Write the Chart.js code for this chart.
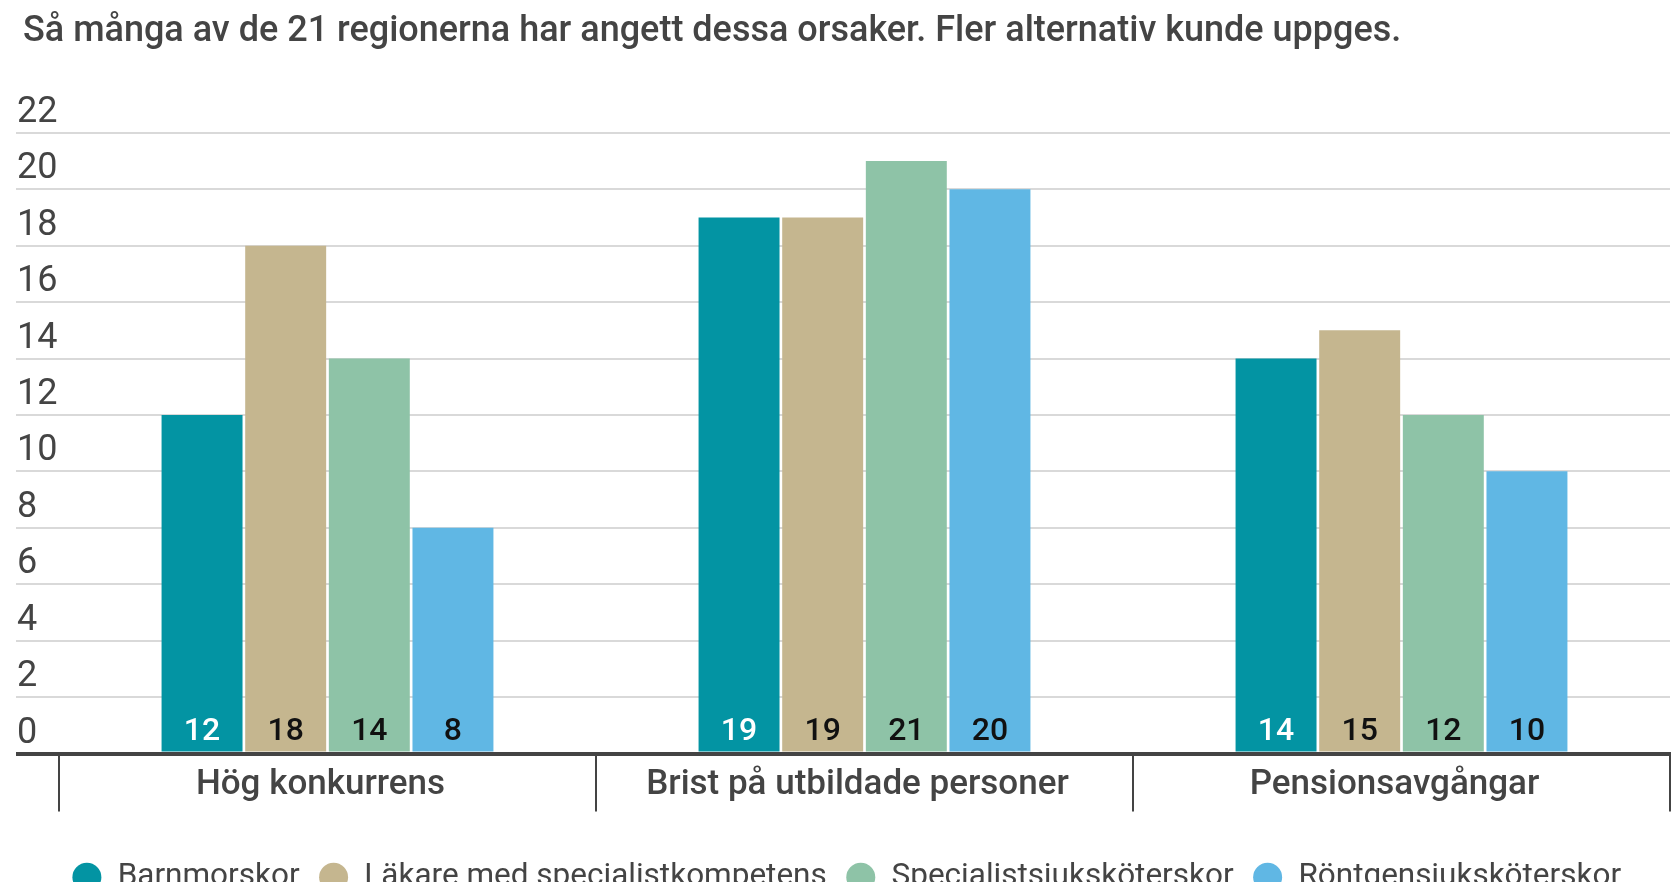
<!DOCTYPE html>
<html>
<head>
<meta charset="utf-8">
<script src="https://cdn.jsdelivr.net/npm/chart.js@4.4.1/dist/chart.umd.min.js"></script>
<style>
  html, body { margin: 0; padding: 0; background: #fff; overflow: hidden; }
  #wrap { position: relative; width: 1673px; height: 903px; }
</style>
</head>
<body>
<div id="wrap"><canvas id="c"></canvas></div>
<script>
const titleText = 'Så många av de 21 regionerna har angett dessa orsaker. Fler alternativ kunde uppges.';
const categories = ['Hög konkurrens', 'Brist på utbildade personer', 'Pensionsavgångar'];
const seriesNames = ['Barnmorskor', 'Läkare med specialistkompetens', 'Specialistsjuksköterskor', 'Röntgensjuksköterskor'];
const barnmorskor = [12, 19, 14];
const lakare = [18, 19, 15];
const specialist = [14, 21, 12];
const rontgen = [8, 20, 10];
const seriesColors = ['#0394a3', '#c5b68f', '#8ec3a7', '#60b7e4'];
const valueLabelColors = ['#ffffff', '#111111', '#111111', '#111111'];
const yMin = 0, yMax = 22, yStep = 2;

Chart.defaults.font.family = 'Roboto, "Noto Sans", sans-serif';

const valueLabels = {
  id: 'valueLabels',
  afterDatasetsDraw(chart) {
    const ctx = chart.ctx;
    ctx.save();
    ctx.font = '500 32px Roboto';
    ctx.textAlign = 'center';
    ctx.textBaseline = 'middle';
    chart.data.datasets.forEach((ds, i) => {
      const meta = chart.getDatasetMeta(i);
      meta.data.forEach((el, j) => {
        ctx.fillStyle = valueLabelColors[i];
        ctx.fillText(String(ds.data[j]), el.x, el.base - 20);
      });
    });
    ctx.restore();
  }
};

const seriesData = [barnmorskor, lakare, specialist, rontgen];

new Chart(document.getElementById('c'), {
  type: 'bar',
  data: {
    labels: categories,
    datasets: seriesNames.map((name, i) => ({
      label: name,
      data: seriesData[i],
      backgroundColor: seriesColors[i],
      borderWidth: 0,
      categoryPercentage: 0.623,
      barPercentage: 0.968
    }))
  },
  options: {
    responsive: true,
    maintainAspectRatio: false,
    animation: false,
    layout: { padding: { left: 23, right: 3, top: 0, bottom: 0 } },
    plugins: {
      title: {
        display: true,
        text: titleText,
        align: 'start',
        color: '#444',
        font: { size: 36, weight: '500' },
        padding: { top: 10, bottom: 79.6 }
      },
      legend: {
        position: 'bottom',
        labels: {
          usePointStyle: true,
          pointStyle: 'circle',
          boxWidth: 30,
          boxHeight: 20.5,
          padding: 19,
          color: '#444',
          font: { size: 31.5 }
        }
      },
      tooltip: { enabled: false }
    },
    scales: {
      x: {
        afterFit: (s) => { s.height = 89; },
        grid: { drawOnChartArea: false, drawTicks: true, tickLength: 58, color: '#444', lineWidth: 2, offset: true },
        border: { display: true, color: '#444', width: 4, z: 1 },
        ticks: { color: '#444', font: { size: 35, weight: '500' }, padding: -47, labelOffset: -7, maxRotation: 0 }
      },
      y: {
        min: yMin, max: yMax,
        afterFit: (s) => { s.width = 36; },
        border: { display: false },
        grid: {
          tickLength: 43,
          color: (c) => (c.tick && c.tick.value === 0) ? '#444' : '#d9d9d9',
          lineWidth: (c) => (c.tick && c.tick.value === 0) ? 4 : 2
        },
        ticks: { stepSize: yStep, mirror: true, padding: -42, labelOffset: -20, color: '#444', font: { size: 36 } }
      }
    }
  },
  plugins: [valueLabels]
});
</script>
</body>
</html>
